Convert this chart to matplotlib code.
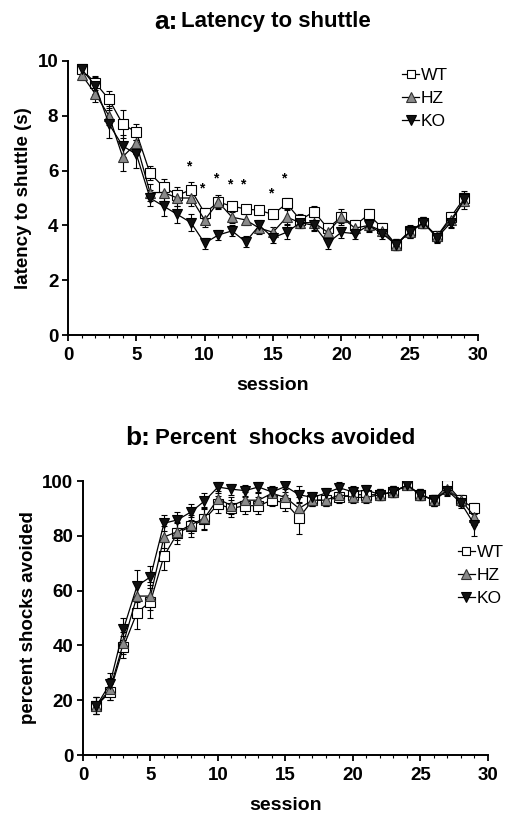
import matplotlib
matplotlib.use("Agg")
import matplotlib.pyplot as plt
from matplotlib.lines import Line2D
import numpy as np

plt.rcParams['font.family'] = ['Liberation Sans', 'DejaVu Sans']

sessions = list(range(1, 30))

# Panel a: latency to shuttle (s)
lat_wt = [9.7, 9.2, 8.6, 7.7, 7.4, 5.9, 5.4, 5.1, 5.3, 4.45, 4.85, 4.7, 4.6, 4.55, 4.4, 4.8, 4.2, 4.5, 3.9, 4.3, 4.0, 4.4, 3.9, 3.3, 3.8, 4.1, 3.6, 4.3, 5.0]
lat_hz = [9.5, 8.8, 8.0, 6.5, 7.0, 5.2, 5.2, 5.0, 5.0, 4.2, 4.85, 4.3, 4.2, 3.9, 3.75, 4.3, 4.1, 4.1, 3.75, 4.3, 3.9, 4.0, 3.8, 3.3, 3.75, 4.1, 3.6, 4.2, 4.9]
lat_ko = [9.7, 9.1, 7.7, 6.9, 6.6, 5.0, 4.7, 4.4, 4.1, 3.35, 3.65, 3.8, 3.4, 4.0, 3.55, 3.75, 4.1, 4.0, 3.35, 3.75, 3.7, 4.0, 3.7, 3.3, 3.75, 4.1, 3.55, 4.1, 4.95]
lat_wt_err = [0.15, 0.25, 0.3, 0.5, 0.3, 0.25, 0.3, 0.3, 0.3, 0.2, 0.2, 0.15, 0.15, 0.15, 0.15, 0.2, 0.2, 0.2, 0.2, 0.2, 0.2, 0.2, 0.2, 0.2, 0.2, 0.2, 0.2, 0.2, 0.25]
lat_hz_err = [0.2, 0.3, 0.35, 0.5, 0.4, 0.3, 0.3, 0.3, 0.3, 0.25, 0.25, 0.2, 0.2, 0.2, 0.2, 0.25, 0.2, 0.25, 0.2, 0.3, 0.2, 0.25, 0.2, 0.2, 0.2, 0.2, 0.2, 0.25, 0.3]
lat_ko_err = [0.15, 0.3, 0.5, 0.4, 0.5, 0.3, 0.35, 0.3, 0.3, 0.2, 0.2, 0.2, 0.2, 0.2, 0.2, 0.25, 0.2, 0.2, 0.2, 0.2, 0.2, 0.2, 0.2, 0.2, 0.2, 0.2, 0.2, 0.2, 0.25]
star_sessions = [9, 10, 11, 12, 13, 15, 16]
star_heights = [6.15, 5.35, 5.7, 5.5, 5.5, 5.15, 5.7]

# Panel b: percent shocks avoided
pct_wt = [18, 23, 39.5, 52, 56, 72.6, 81, 83.5, 86, 91.5, 90, 91, 91, 93, 92, 86.5, 93, 93, 94, 95, 95, 95, 96, 98.5, 95, 93, 98.5, 93, 90]
pct_hz = [18, 24, 41, 58, 58, 79.6, 81.5, 84, 86.5, 93.5, 91, 93, 93, 95.5, 94, 90, 93, 93, 95, 94, 94, 95, 96, 98.5, 95, 93, 97, 93, 87]
pct_ko = [18, 26, 46, 61.7, 65, 84.6, 85.8, 88.7, 92.7, 97.8, 97, 96.5, 97.8, 96, 98, 95, 94, 95.6, 97.5, 96, 96.7, 95, 96, 98.5, 95, 93, 96.5, 92, 84]
pct_wt_err = [3, 3, 4, 6, 6, 5, 4, 4, 4, 3, 3, 3, 3, 2, 3, 6, 2, 2, 2, 2, 2, 2, 2, 1, 2, 2, 1, 2, 2]
pct_hz_err = [3, 4, 4, 5, 5, 4, 3, 3, 4, 3, 3, 3, 3, 2, 3, 4, 2, 2, 2, 2, 2, 2, 2, 1, 2, 2, 2, 2, 3]
pct_ko_err = [3, 4, 4, 6, 4, 3, 3, 3, 3, 2, 2, 2, 2, 2, 2, 3, 2, 2, 2, 2, 2, 2, 2, 1, 2, 2, 2, 2, 4]

groups = ["WT", "HZ", "KO"]
styles = {
    "WT": dict(marker="s", mfc="white", mec="black", ms=6.5),
    "HZ": dict(marker="^", mfc="#8a8a8a", mec="#333333", ms=7.5),
    "KO": dict(marker="v", mfc="#111111", mec="black", ms=7.5),
}

fig = plt.figure(figsize=(5.06, 8.18), dpi=100)
ax1 = fig.add_axes([68/506, 1-335/818, 410/506, 274/818])
ax2 = fig.add_axes([83/506, 1-755/818, 405/506, 274/818])

def draw(ax, series, errs):
    for g, y, e in zip(groups, series, errs):
        st = styles[g]
        ax.errorbar(sessions, y, yerr=e, color="black", lw=0.9, elinewidth=0.8,
                    capsize=2.5, capthick=0.8, marker=st["marker"], mfc=st["mfc"],
                    mec=st["mec"], ms=st["ms"], mew=0.8, zorder=3)

draw(ax1, [lat_wt, lat_hz, lat_ko], [lat_wt_err, lat_hz_err, lat_ko_err])
draw(ax2, [pct_wt, pct_hz, pct_ko], [pct_wt_err, pct_hz_err, pct_ko_err])

for s, h in zip(star_sessions, star_heights):
    ax1.text(s - 0.2, h, "*", ha="center", va="center", fontsize=10, fontweight="bold")

for ax in (ax1, ax2):
    ax.spines["top"].set_visible(False)
    ax.spines["right"].set_visible(False)
    ax.spines["left"].set_linewidth(1.4)
    ax.spines["bottom"].set_linewidth(1.4)
    ax.set_xlim(0, 30)
    ax.set_xticks([0, 5, 10, 15, 20, 25, 30])
    ax.xaxis.set_minor_locator(matplotlib.ticker.MultipleLocator(1))
    ax.tick_params(axis="both", which="major", labelsize=13.5, width=1.3, length=4, pad=3)
    ax.tick_params(axis="x", which="major", pad=5)
    ax.tick_params(axis="x", which="minor", width=0.8, length=2.5)
    ax.set_xlabel("session", fontsize=14, fontweight="bold", labelpad=9)

ax1.set_ylim(0, 10)
ax1.set_yticks([0, 2, 4, 6, 8, 10])
ax2.set_ylim(0, 100)
ax2.set_yticks([0, 20, 40, 60, 80, 100])
for ax in (ax1, ax2):
    for lab in ax.get_xticklabels() + ax.get_yticklabels():
        lab.set_fontweight("bold")

ax1.set_ylabel("latency to shuttle (s)", fontsize=13.5, fontweight="bold", labelpad=4)
ax2.set_ylabel("percent shocks avoided", fontsize=13.5, fontweight="bold", labelpad=4)

handles = [Line2D([0], [0], color="black", lw=0.9, marker=styles[g]["marker"],
                  mfc=styles[g]["mfc"], mec=styles[g]["mec"], ms=styles[g]["ms"] - 0.5,
                  mew=0.8) for g in groups]
leg_kw = dict(frameon=False, fontsize=12.5, handlelength=1.0, handletextpad=0.1,
              labelspacing=0.45, borderpad=0.2)
ax1.legend(handles, groups, loc="upper left", bbox_to_anchor=(0.785, 1.02), **leg_kw)
ax2.legend(handles, groups, loc="upper left", bbox_to_anchor=(0.895, 0.81), **leg_kw)

fig.text(178/506, 1-22/818, "a:", fontsize=19, fontweight="bold", ha="right", va="center")
fig.text(181/506, 1-22/818, "Latency to shuttle", fontsize=16, fontweight="bold", ha="left", va="center")
fig.text(150/506, 1-438/818, "b:", fontsize=19, fontweight="bold", ha="right", va="center")
fig.text(155/506, 1-438/818, "Percent  shocks avoided", fontsize=16, fontweight="bold", ha="left", va="center")

fig.savefig("out.png", dpi=100)
